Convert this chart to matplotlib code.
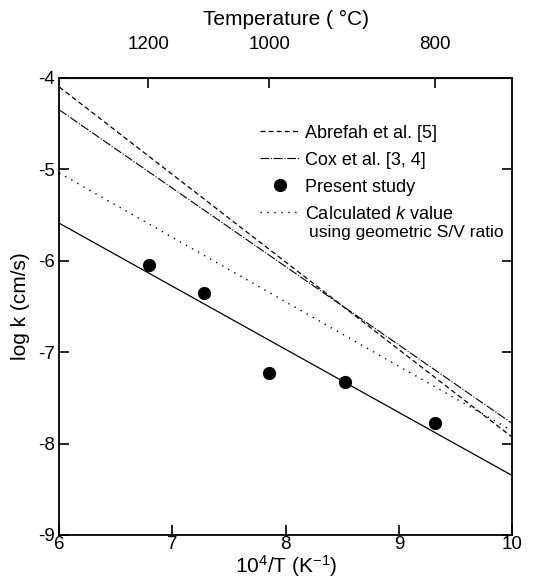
import numpy as np
import matplotlib
matplotlib.use('Agg')
import matplotlib.pyplot as plt

plt.rcParams['font.family'] = ['Liberation Sans', 'DejaVu Sans']
plt.rcParams['mathtext.fontset'] = 'custom'
plt.rcParams['mathtext.rm'] = 'Liberation Sans'
plt.rcParams['mathtext.it'] = 'Liberation Sans:italic'

# line endpoints (10^4/T, log k)
line_x = [6, 10]
abrefah_y = [-4.1, -7.93]
cox_y = [-4.35, -7.78]
calc_y = [-5.04, -7.86]
fit_y = [-5.59, -8.35]

# present study data
pts_x = [6.79, 7.28, 7.85, 8.52, 9.32]
pts_y = [-6.05, -6.35, -7.23, -7.33, -7.77]

temp_ticks = [1200, 1000, 800]

fig = plt.figure(figsize=(5.38, 5.85), dpi=100)
ax = fig.add_axes([0.110, 0.0855, 0.842, 0.7815])

ax.plot(line_x, abrefah_y, color='k', lw=0.9, linestyle=(0, (4, 2.5)), label='Abrefah et al. [5]')
ax.plot(line_x, cox_y, color='k', lw=0.8, linestyle=(0, (8, 1.5, 1, 1.5)), label='Cox et al. [3, 4]')
ax.plot(pts_x, pts_y, 'o', color='k', ms=8.5, linestyle='none', label='Present study')
ax.plot(line_x, calc_y, color='k', lw=1.0, linestyle=(0, (1, 4)), label='Calculated $k$ value')
ax.plot(line_x, fit_y, color='k', lw=0.9)

ax.set_xlim(6, 10)
ax.set_ylim(-9, -4)
ax.set_xticks([6, 7, 8, 9, 10])
ax.set_yticks([-9, -8, -7, -6, -5, -4])
ax.set_xticklabels(['6', '7', '8', '9', '10'])
ax.set_yticklabels(['-9', '-8', '-7', '-6', '-5', '-4'])
ax.tick_params(direction='in', length=7, width=1.2, labelsize=13.5, right=True)
ax.tick_params(axis='x', pad=1)
ax.tick_params(axis='y', pad=3)
for s in ax.spines.values():
    s.set_linewidth(1.3)

ax.set_xlabel('10$^4$/T (K$^{-1}$)', fontsize=15, labelpad=0)
ax.set_ylabel('log k (cm/s)', fontsize=15, labelpad=6)

def to_c(x):
    x = np.asarray(x, dtype=float)
    with np.errstate(divide='ignore'):
        return 1e4 / x - 273.15

def to_x(t):
    t = np.asarray(t, dtype=float)
    with np.errstate(divide='ignore'):
        return 1e4 / (t + 273.15)

sec = ax.secondary_xaxis('top', functions=(to_c, to_x))
sec.set_xticks(temp_ticks)
sec.set_xticklabels([str(t) for t in temp_ticks])
sec.tick_params(direction='in', length=7, width=1.2, labelsize=13.5, pad=18)
sec.set_xlabel('Temperature ( °C)', fontsize=15, labelpad=8)

leg = ax.legend(loc='upper left', bbox_to_anchor=(0.427, 0.913), frameon=False, fontsize=13,
                handlelength=2.2, handletextpad=0.3, labelspacing=0.55, borderaxespad=0.0)
ax.text(0.552, 0.661, 'using geometric S/V ratio', transform=ax.transAxes,
        fontsize=12.5, ha='left', va='center')

fig.savefig('out.png', dpi=100)
